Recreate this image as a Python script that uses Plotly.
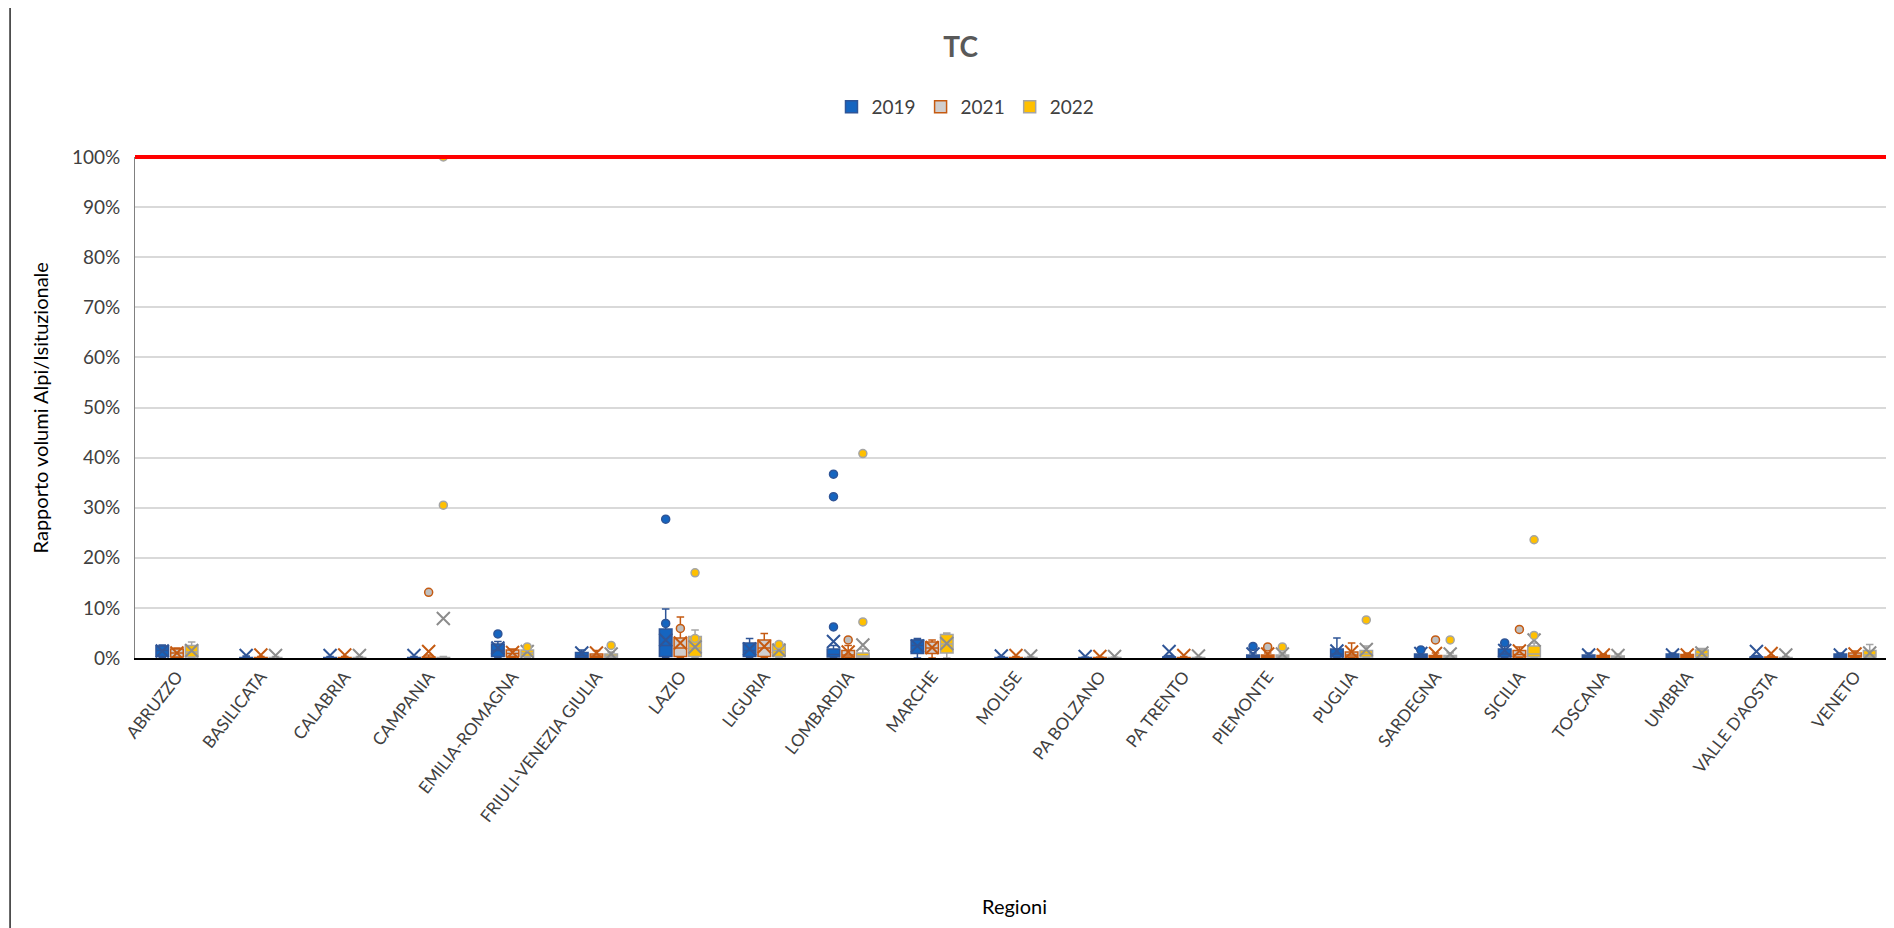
import plotly.graph_objects as go

# categorie (regioni)
regioni = ["ABRUZZO", "BASILICATA", "CALABRIA", "CAMPANIA", "EMILIA-ROMAGNA",
           "FRIULI-VENEZIA GIULIA", "LAZIO", "LIGURIA", "LOMBARDIA", "MARCHE",
           "MOLISE", "PA BOLZANO", "PA TRENTO", "PIEMONTE", "PUGLIA", "SARDEGNA",
           "SICILIA", "TOSCANA", "UMBRIA", "VALLE D'AOSTA", "VENETO"]

# statistiche dei box (valori in %)
q1_2019 = [0.3, 0, 0, 0, 0.3, 0.1, 0.3, 0.3, 0.2, 0.9, 0, 0, 0, 0.1, 0.2, 0.1, 0.2, 0.1, 0.1, 0, 0.1]
med_2019 = [1.5, 0, 0, 0, 1.5, 0.5, 2.5, 1.5, 0.7, 2.5, 0, 0, 0, 0.3, 0.8, 0.4, 0.8, 0.3, 0.4, 0, 0.4]
q3_2019 = [2.4, 0.1, 0.1, 0.1, 2.8, 1.1, 5.8, 3.0, 1.8, 3.6, 0.1, 0.1, 0.2, 0.6, 1.8, 0.8, 1.8, 0.6, 0.8, 0.2, 0.8]
hi_2019 = [2.6, 0.4, 0.3, 0.3, 3.3, 1.6, 9.8, 3.9, 2.5, 3.9, 0.3, 0.2, 0.5, 1.0, 4.0, 1.4, 2.5, 1.0, 1.0, 0.5, 1.0]
mean_2019 = [1.4, 0.5, 0.5, 0.5, 2.0, 1.0, 3.6, 1.8, 3.3, 2.4, 0.4, 0.3, 1.3, 0.8, 1.4, 0.9, 1.5, 0.6, 0.6, 1.3, 0.6]
out_cat_2019 = [4, 6, 6, 8, 8, 8, 13, 15, 16]
out_val_2019 = [4.8, 6.9, 27.7, 36.7, 32.2, 6.2, 2.3, 1.6, 3.0]

q1_2021 = [0.2, 0, 0, 0, 0.3, 0.1, 0.3, 0.3, 0.2, 0.9, 0, 0, 0, 0.1, 0.2, 0, 0.2, 0.1, 0.1, 0, 0.2]
med_2021 = [1.0, 0, 0, 0, 0.9, 0.4, 2.0, 2.0, 0.6, 2.0, 0, 0, 0, 0.3, 0.6, 0.2, 0.7, 0.2, 0.4, 0, 0.5]
q3_2021 = [1.8, 0.1, 0.1, 0.2, 1.6, 0.8, 4.0, 3.6, 1.5, 3.2, 0.1, 0.1, 0.1, 0.6, 1.2, 0.5, 1.5, 0.5, 0.7, 0.2, 1.0]
hi_2021 = [2.0, 0.3, 0.3, 0.6, 1.8, 1.5, 8.2, 4.9, 2.5, 3.6, 0.3, 0.2, 0.3, 1.0, 3.0, 1.0, 2.2, 0.8, 1.0, 0.4, 1.4]
mean_2021 = [1.0, 0.6, 0.6, 1.3, 1.1, 1.0, 3.0, 2.3, 1.2, 2.1, 0.5, 0.3, 0.5, 0.8, 1.2, 0.9, 1.4, 0.6, 0.6, 0.9, 0.8]
out_cat_2021 = [3, 6, 8, 13, 15, 16]
out_val_2021 = [13.1, 5.9, 3.6, 2.2, 3.6, 5.7]

q1_2022 = [0.2, 0, 0, 0, 0.3, 0.1, 0.3, 0.3, 0.1, 1.0, 0, 0, 0, 0.1, 0.2, 0, 0.2, 0.1, 0.2, 0, 0.2]
med_2022 = [1.2, 0, 0, 0, 1.0, 0.4, 2.0, 1.5, 0.4, 2.8, 0, 0, 0, 0.3, 0.8, 0.2, 0.8, 0.2, 0.8, 0, 0.6]
q3_2022 = [2.5, 0.1, 0.1, 0.1, 1.6, 0.8, 4.3, 2.6, 1.0, 4.7, 0.1, 0.1, 0.1, 0.6, 1.5, 0.5, 2.4, 0.4, 1.6, 0.1, 1.5]
hi_2022 = [3.2, 0.3, 0.3, 0.3, 2.0, 1.2, 5.6, 3.0, 1.8, 5.0, 0.3, 0.2, 0.2, 1.0, 2.4, 1.0, 3.0, 0.8, 1.9, 0.3, 2.7]
mean_2022 = [1.5, 0.5, 0.5, 7.9, 1.3, 0.8, 2.2, 1.6, 2.6, 2.9, 0.4, 0.3, 0.4, 0.8, 1.7, 0.8, 3.6, 0.5, 1.0, 0.6, 1.0]
out_cat_2022 = [3, 3, 4, 5, 6, 6, 7, 8, 8, 13, 14, 15, 16, 16]
out_val_2022 = [30.5, 100, 2.2, 2.5, 17.0, 3.9, 2.7, 40.8, 7.2, 2.2, 7.6, 3.6, 23.6, 4.5]

FONT = "Lato"

serie = [
    ("2019", q1_2019, med_2019, q3_2019, hi_2019, mean_2019, out_cat_2019, out_val_2019,
     -0.175, "#1565C0", "#2F5597", "#1565C0", "#2F5597", "#2F5597"),
    ("2021", q1_2021, med_2021, q3_2021, hi_2021, mean_2021, out_cat_2021, out_val_2021,
     0.0, "#D0CECE", "#C55A11", "#BFBFBF", "#C55A11", "#C55A11"),
    ("2022", q1_2022, med_2022, q3_2022, hi_2022, mean_2022, out_cat_2022, out_val_2022,
     0.175, "#FFC000", "#A5A5A5", "#FFC000", "#A5A5A5", "#8C8C8C"),
]

fig = go.Figure()
idx = list(range(len(regioni)))

for (nome, q1, med, q3, hi, mean, oc, ov, off, fill, line, mfill, mline, xcol) in serie:
    xs = [i + off for i in idx]
    fig.add_trace(go.Box(
        name=nome, x=xs,
        q1=[v / 100 for v in q1], median=[v / 100 for v in med], q3=[v / 100 for v in q3],
        lowerfence=[0] * len(idx), upperfence=[v / 100 for v in hi],
        width=0.15, whiskerwidth=0.6,
        fillcolor=fill, line=dict(color=line, width=1.5),
        boxpoints=False, hoverinfo="skip",
    ))
    # media (X)
    fig.add_trace(go.Scatter(
        x=xs, y=[v / 100 for v in mean], mode="markers", showlegend=False,
        marker=dict(symbol="x-thin-open", size=13, color=xcol, line=dict(color=xcol, width=2)),
    ))
    # punti esterni
    fig.add_trace(go.Scatter(
        x=[c + off for c in oc], y=[v / 100 for v in ov], mode="markers", showlegend=False,
        marker=dict(symbol="circle", size=8, color=mfill, line=dict(color=mline, width=1.5)),
    ))

fig.update_layout(
    width=1894, height=928,
    margin=dict(l=127, r=0, t=149, b=278),
    paper_bgcolor="white", plot_bgcolor="white",
    font=dict(family=FONT, size=15, color="#404040"),
    title=dict(text="<b>TC</b>", x=0.503, xref="container", y=0.958, yref="container",
               xanchor="center", yanchor="middle", font=dict(size=28, color="#595959")),
    showlegend=True,
    legend=dict(orientation="h", x=0.47, y=1.1, xanchor="center", yanchor="middle",
                font=dict(size=19, color="#404040"), traceorder="normal"),
    xaxis=dict(
        range=[-0.5, 20.56], tickmode="array", tickvals=idx, ticktext=regioni,
        tickangle=-52, showgrid=False, zeroline=False,
        showline=True, linecolor="#000000", linewidth=2, ticks="",
        tickfont=dict(size=17, color="#404040"),
    ),
    yaxis=dict(
        range=[0, 1], dtick=0.1, tickformat=".0%", showgrid=True,
        gridcolor="#D9D9D9", gridwidth=1.5, zeroline=False,
        showline=True, linecolor="#808080", linewidth=1, ticks="",
        ticklabelstandoff=10, tickfont=dict(size=19, color="#404040"),
    ),
    shapes=[
        dict(type="line", xref="paper", yref="paper", x0=0, x1=1, y0=1, y1=1,
             line=dict(color="#FF0000", width=4)),
        dict(type="line", xref="paper", yref="paper", x0=-0.0707, x1=-0.0707, y0=-0.6, y1=1.4,
             line=dict(color="#262626", width=1.5)),
    ],
    annotations=[
        dict(text="Rapporto volumi Alpi/Isituzionale", xref="paper", yref="paper",
             x=-0.0538, y=0.5, textangle=-90, showarrow=False,
             xanchor="center", yanchor="middle", font=dict(size=20, color="#000000")),
        dict(text="Regioni", xref="paper", yref="paper",
             x=0.498, y=-0.495, showarrow=False,
             xanchor="center", yanchor="middle", font=dict(size=20, color="#000000")),
    ],
)

fig.write_html("out.html")
